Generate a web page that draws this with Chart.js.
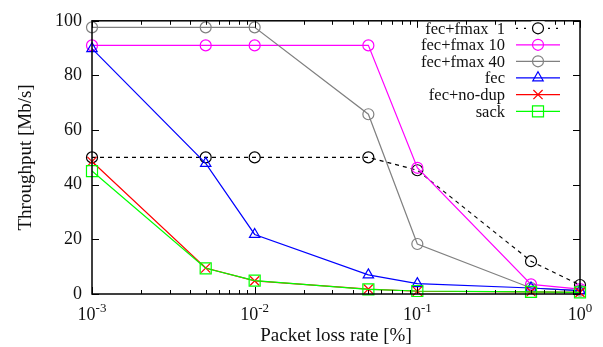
<!DOCTYPE html>
<html>
<head>
<meta charset="utf-8">
<script src="https://cdn.jsdelivr.net/npm/chart.js@4.4.1/dist/chart.umd.min.js"></script>
<style>
html,body{margin:0;padding:0;background:#fff;}
#c{display:block;}
</style>
</head>
<body>
<canvas id="c" width="603" height="347"></canvas>
<script>
// ---- data ----
const lossRates = [0.001, 0.005, 0.01, 0.05, 0.1, 0.5, 1];
const seriesNames = ["fec+fmax  1", "fec+fmax 10", "fec+fmax 40", "fec", "fec+no-dup", "sack"];
const fecFmax1  = [50, 50, 50, 50, 45.3, 12, 3.3];
const fecFmax10 = [91, 91, 91, 91, 46.2, 3.5, 1.8];
const fecFmax40 = [97.6, 97.6, 97.6, 65.8, 18.3, 2.2, 1.2];
const fecOnly   = [89.8, 47.8, 21.8, 7, 3.8, 2.2, 1.2];
const fecNoDup  = [48.5, 9.5, 4.8, 1.8, 1.0, 0.8, 0.6];
const sack      = [45, 9.4, 4.9, 1.7, 1.1, 0.8, 0.6];
const xTickExponents = [-3, -2, -1, 0];
const yTickValues = [0, 20, 40, 60, 80, 100];

const SERIF = '"Liberation Serif", "Times New Roman", serif';

const styles = [
  {color: "#000000", dash: [4, 4], point: "circle", r: 5.5},
  {color: "#ff00ff", dash: [], point: "circle", r: 5.5},
  {color: "#808080", dash: [], point: "circle", r: 5.5},
  {color: "#0000ff", dash: [], point: "triangle", r: 6},
  {color: "#ff0000", dash: [], point: "crossRot", r: 6.5},
  {color: "#00ff00", dash: [], point: "rect", r: 7.8}
];
const values = [fecFmax1, fecFmax10, fecFmax40, fecOnly, fecNoDup, sack];

const datasets = values.map((vals, i) => ({
  label: seriesNames[i],
  data: lossRates.map((x, j) => ({x: x, y: vals[j]})),
  borderColor: styles[i].color,
  backgroundColor: "rgba(0,0,0,0)",
  borderWidth: 1.2,
  borderDash: styles[i].dash,
  pointStyle: styles[i].point,
  pointRadius: styles[i].r,
  pointBorderWidth: 1.2,
  pointBorderColor: styles[i].color,
  pointBackgroundColor: "rgba(0,0,0,0)",
  tension: 0,
  clip: false,
  order: values.length - i
}));

const decorPlugin = {
  id: "decor",
  afterDraw(chart) {
    const ctx = chart.ctx;
    const a = chart.chartArea;
    const xs = chart.scales.x, ys = chart.scales.y;
    ctx.save();
    // frame
    ctx.strokeStyle = "#000";
    ctx.lineWidth = 1.5;
    ctx.setLineDash([]);
    ctx.strokeRect(a.left, a.top, a.right - a.left, a.bottom - a.top);
    // x ticks (inward, mirrored)
    ctx.lineWidth = 1;
    ctx.beginPath();
    for (let e = -3; e <= 0; e++) {
      for (let m = 1; m <= 9; m++) {
        const v = m * Math.pow(10, e);
        if (v > 1.0000001) break;
        const px = Math.round(xs.getPixelForValue(v)) + 0.5;
        const len = (m === 1) ? 7 : 4;
        ctx.moveTo(px, a.bottom); ctx.lineTo(px, a.bottom - len);
        ctx.moveTo(px, a.top); ctx.lineTo(px, a.top + len);
      }
    }
    // y ticks
    yTickValues.forEach(v => {
      const py = Math.round(ys.getPixelForValue(v)) + 0.5;
      ctx.moveTo(a.left, py); ctx.lineTo(a.left + 7, py);
      ctx.moveTo(a.right, py); ctx.lineTo(a.right - 7, py);
    });
    ctx.stroke();

    // x tick labels 10^e
    ctx.fillStyle = "#111";
    ctx.textBaseline = "alphabetic";
    ctx.textAlign = "left";
    xTickExponents.forEach(e => {
      const px = xs.getPixelForValue(Math.pow(10, e));
      const base = "10", sup = String(e);
      ctx.font = "18px " + SERIF;
      const w1 = ctx.measureText(base).width;
      ctx.font = "13px " + SERIF;
      const w2 = ctx.measureText(sup).width;
      const x0 = px - (w1 + w2) / 2;
      ctx.font = "18px " + SERIF;
      ctx.fillText(base, x0, 320);
      ctx.font = "13px " + SERIF;
      ctx.fillText(sup, x0 + w1, 312);
    });

    // axis titles
    ctx.font = "19px " + SERIF;
    ctx.textAlign = "center";
    ctx.fillText("Packet loss rate [%]", (a.left + a.right) / 2, 341);
    ctx.save();
    ctx.translate(26, (a.top + a.bottom) / 2);
    ctx.rotate(-Math.PI / 2);
    ctx.textBaseline = "middle";
    ctx.fillText("Throughput [Mb/s]", 0, 0);
    ctx.restore();

    // legend
    const rowY = [28.3, 44.8, 61.3, 77.8, 94.6, 111.3];
    chart.data.datasets.forEach((ds, i) => {
      const y = rowY[i];
      ctx.font = "16.5px " + SERIF;
      ctx.textAlign = "right";
      ctx.textBaseline = "middle";
      ctx.fillStyle = "#111";
      ctx.fillText(ds.label, 505, y + 1);
      ctx.strokeStyle = ds.borderColor;
      ctx.lineWidth = 1.2;
      ctx.setLineDash(ds.borderDash.length ? [2, 6] : []);
      ctx.beginPath();
      ctx.moveTo(516, y); ctx.lineTo(560, y);
      ctx.stroke();
      ctx.setLineDash([]);
      ctx.fillStyle = "rgba(0,0,0,0)";
      if (ds.borderDash.length) {
        ctx.save();
        ctx.fillStyle = "#fff";
        ctx.fillRect(538 - 7, y - 7, 14, 14);
        ctx.restore();
        ctx.fillStyle = "rgba(0,0,0,0)";
      }
      Chart.helpers.drawPoint(ctx, {
        pointStyle: ds.pointStyle, radius: ds.pointRadius, rotation: 0, borderWidth: 1.2
      }, 538, y);
    });
    ctx.restore();
  }
};

new Chart(document.getElementById("c"), {
  type: "line",
  data: {datasets: datasets},
  options: {
    responsive: false,
    animation: false,
    devicePixelRatio: 1,
    layout: {padding: {left: 0, right: 23, top: 16, bottom: 0}},
    plugins: {legend: {display: false}, tooltip: {enabled: false}, title: {display: false}},
    scales: {
      x: {
        type: "logarithmic",
        min: 0.001, max: 1,
        grid: {display: false, drawTicks: false},
        border: {display: false},
        ticks: {display: false},
        afterFit(s) { s.height = 53; }
      },
      y: {
        type: "linear",
        min: 0, max: 100,
        grid: {display: false, drawTicks: false},
        border: {display: false},
        ticks: {
          stepSize: 20,
          padding: 10,
          color: "#111",
          font: {family: SERIF, size: 18}
        },
        afterFit(s) { s.width = 92; }
      }
    }
  },
  plugins: [decorPlugin]
});
</script>
</body>
</html>
